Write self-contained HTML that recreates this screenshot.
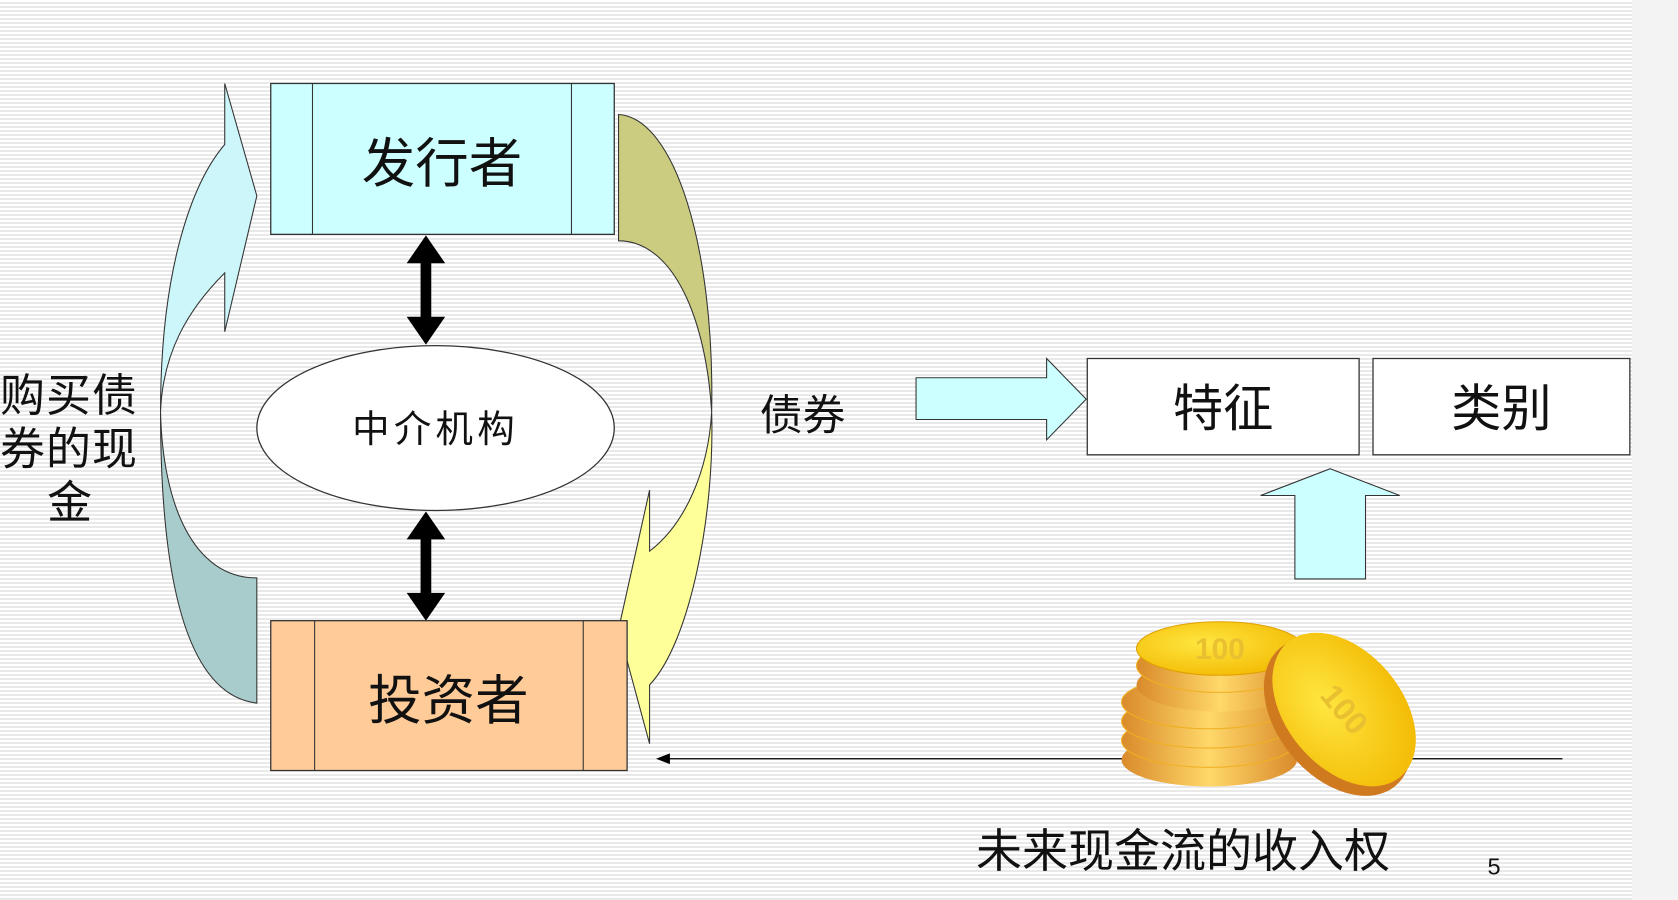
<!DOCTYPE html>
<html><head><meta charset="utf-8"><style>
html,body{margin:0;padding:0;}
body{width:1678px;height:900px;overflow:hidden;background:#f3f3f3;}
.bg{position:absolute;left:0;top:0;width:1632px;height:900px;background:repeating-linear-gradient(180deg,#ffffff 0px,#ffffff 2px,#e9e9e9 2px,#e9e9e9 4px);}
svg{position:absolute;left:0;top:0;}
text{font-family:"Liberation Sans","Noto Sans CJK SC",sans-serif;fill:#111;}
</style></head><body>
<div class="bg"></div>
<svg width="1678" height="900" viewBox="0 0 1568 841">
<defs>
<linearGradient id="cg" x1="0" x2="1" y1="0" y2="0">
<stop offset="0" stop-color="#d98a2a"/><stop offset="0.5" stop-color="#ffd86a"/><stop offset="1" stop-color="#d98a2a"/></linearGradient>
<radialGradient id="ct" cx="0.4" cy="0.4" r="0.7"><stop offset="0" stop-color="#ffe640"/><stop offset="1" stop-color="#f2b800"/></radialGradient>
</defs>
<path d="M150,385 C150,250 180,170 210,135 L210,78 L240,183 L210,310 L210,255 C175,290 152,330 150,385 Z" fill="#ccf6fa" stroke="#333" stroke-width="1"/>
<path d="M150,385 C152,470 180,540 240,540 L240,657 C180,650 150,560 150,385 Z" fill="#a8cccc" stroke="#333" stroke-width="1"/>
<path d="M578,107 C630,110 668,230 665,385 C660,300 630,225 578,225 Z" fill="#cccc80" stroke="#333" stroke-width="1"/>
<path d="M665,385 C668,480 645,600 607,640 L607,695 L578,588 L607,458 L607,515 C640,490 662,440 665,385 Z" fill="#ffff99" stroke="#333" stroke-width="1"/>
<rect x="253" y="78" width="321" height="141" fill="#ccffff" stroke="#333" stroke-width="1.2"/>
<line x1="292" y1="78" x2="292" y2="219" stroke="#333"/><line x1="534" y1="78" x2="534" y2="219" stroke="#333"/>
<text x="413" y="170" font-size="50" text-anchor="middle">发行者</text>
<rect x="253" y="580" width="333" height="140" fill="#ffcc99" stroke="#333" stroke-width="1.2"/>
<line x1="294" y1="580" x2="294" y2="720" stroke="#333"/><line x1="545" y1="580" x2="545" y2="720" stroke="#333"/>
<text x="419" y="672" font-size="50" text-anchor="middle">投资者</text>
<ellipse cx="407" cy="400" rx="167" ry="77" fill="#fff" stroke="#333" stroke-width="1.2"/>
<text x="407" y="413" font-size="35" text-anchor="middle" letter-spacing="4">中介机构</text>
<path d="M398,220 L416,246 L403,246 L403,296 L416,296 L398,322 L380,296 L393,296 L393,246 L380,246 Z" fill="#000"/>
<path d="M398,478 L416,504 L403,504 L403,554 L416,554 L398,580 L380,554 L393,554 L393,504 L380,504 Z" fill="#000"/>
<text x="0" y="384" font-size="42" letter-spacing="1">购买债</text>
<text x="0" y="434" font-size="42" letter-spacing="1">券的现</text>
<text x="44" y="484" font-size="42">金</text>
<text x="710" y="402" font-size="40">债券</text>
<path d="M856,353 L978,353 L978,335 L1015,373 L978,411 L978,392 L856,392 Z" fill="#ccffff" stroke="#333"/>
<rect x="1016" y="335" width="254" height="90" fill="#fff" stroke="#333" stroke-width="1.2"/>
<text x="1143" y="398" font-size="47" text-anchor="middle">特征</text>
<rect x="1283" y="335" width="240" height="90" fill="#fff" stroke="#333" stroke-width="1.2"/>
<text x="1403" y="398" font-size="47" text-anchor="middle">类别</text>
<path d="M1243,438 L1308,463 L1276,463 L1276,541 L1210,541 L1210,463 L1178,463 Z" fill="#ccffff" stroke="#333"/>
<line x1="620" y1="709" x2="1460" y2="709" stroke="#000" stroke-width="1.2"/>
<path d="M613,709 L626,704 L626,714 Z" fill="#000"/>
<g>
<ellipse cx="1130" cy="710" rx="82" ry="25" fill="url(#cg)"/>
<ellipse cx="1130" cy="692" rx="82" ry="25" fill="url(#cg)" stroke="#f0b020"/>
<ellipse cx="1130" cy="674" rx="82" ry="25" fill="url(#cg)" stroke="#f0b020"/>
<ellipse cx="1130" cy="656" rx="82" ry="25" fill="url(#cg)" stroke="#f0b020"/>
<ellipse cx="1140" cy="640" rx="78" ry="25" fill="url(#cg)"/>
<ellipse cx="1140" cy="622" rx="78" ry="25" fill="url(#cg)" stroke="#f0b020"/>
<ellipse cx="1140" cy="606" rx="78" ry="25" fill="url(#ct)" stroke="#e0a000"/>
<text x="1140" y="616" font-size="28" text-anchor="middle" font-weight="bold" style="fill:#e8c030">100</text>
<ellipse cx="1250" cy="670" rx="56" ry="84" transform="rotate(-40 1250 670)" fill="#d07a20"/>
<ellipse cx="1256" cy="663" rx="54" ry="82" transform="rotate(-40 1256 663)" fill="url(#ct)"/>
<text x="1256" y="673" font-size="30" text-anchor="middle" font-weight="bold" transform="rotate(50 1256 663)" style="fill:#e8c030">100</text>
</g>
<text x="912" y="810" font-size="43">未来现金流的收入权</text>
<text x="1390" y="817" font-size="22">5</text>
</svg>
</body></html>
